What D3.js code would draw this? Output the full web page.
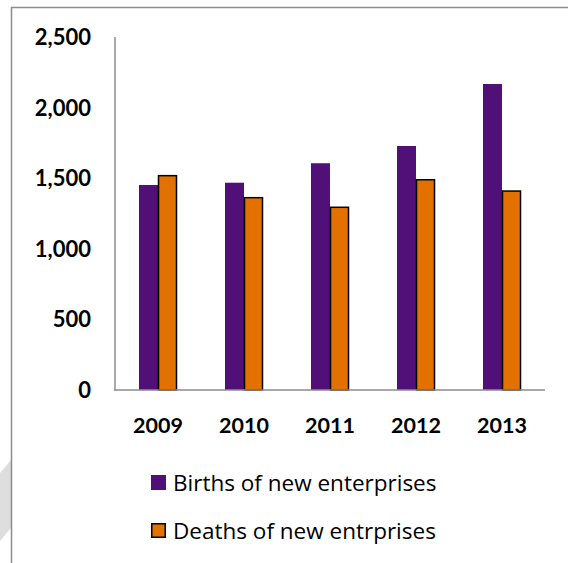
<!DOCTYPE html>
<html>
<head>
<meta charset="utf-8">
<script src="https://cdn.jsdelivr.net/npm/d3@7"></script>
<style>
  html, body { margin: 0; padding: 0; background: #fff; }
  svg { display: block; }
</style>
</head>
<body>
<svg id="chart" width="568" height="563"></svg>
<script>
const years = ["2009", "2010", "2011", "2012", "2013"];
const births = [1452, 1468, 1606, 1728, 2167];
const deaths = [1518, 1362, 1294, 1489, 1409];
const yTicks = [0, 500, 1000, 1500, 2000, 2500];
const seriesNames = ["Births of new enterprises", "Deaths of new entrprises"];
const seriesColors = ["#501077", "#E37100"];

const svg = d3.select("#chart");
const boldFont = "Lato, 'Open Sans', sans-serif";
const legFont = "'Open Sans', Lato, sans-serif";

// watermark shape
svg.append("path")
  .attr("d", "M0,473 L11,460 L11,528 L0,541 Z")
  .attr("fill", "#dedede");

// outer frame (left and top)
svg.append("path")
  .attr("d", "M11.5,563 L11.5,7.5 L568,7.5")
  .attr("fill", "none").attr("stroke", "#8c8c8c").attr("stroke-width", 1.5);

const x0 = d3.scaleBand().domain(years).range([115, 545]).paddingInner(0).paddingOuter(0);
const groupW = 38;
const x1 = d3.scaleBand().domain([0, 1]).range([0, groupW]);
const y = d3.scaleLinear().domain([0, 2500]).range([390, 37]);

// bars
const data = years.map((yr, i) => ({ yr, vals: [births[i], deaths[i]] }));
const g = svg.append("g");
const groups = g.selectAll("g.grp").data(data).enter().append("g")
  .attr("transform", d => `translate(${x0(d.yr) + x0.bandwidth() / 2 - groupW / 2},0)`);

groups.selectAll("rect").data(d => d.vals.map((v, k) => ({ v, k }))).enter().append("rect")
  .attr("x", d => x1(d.k) + (d.k === 1 ? 0.5 : 0))
  .attr("width", d => x1.bandwidth() - (d.k === 1 ? 1 : 0))
  .attr("y", d => y(d.v))
  .attr("height", d => y(0) - y(d.v))
  .attr("fill", d => seriesColors[d.k])
  .attr("stroke", d => d.k === 1 ? "#000" : "none")
  .attr("stroke-width", 1.5);

// axes lines
svg.append("line").attr("x1", 115).attr("x2", 115).attr("y1", y(2500)).attr("y2", y(0) + 0.5)
  .attr("stroke", "#8c8c8c").attr("stroke-width", 1.5);
svg.append("line").attr("x1", 114).attr("x2", 545).attr("y1", y(0)).attr("y2", y(0))
  .attr("stroke", "#8c8c8c").attr("stroke-width", 1.5);

// y tick labels
const fmt = d3.format(",");
svg.selectAll("text.ytick").data(yTicks).enter().append("text")
  .attr("class", "ytick")
  .attr("x", 91).attr("y", d => y(d) + 8)
  .attr("text-anchor", "end")
  .attr("font-family", boldFont).attr("font-weight", "bold").attr("font-size", 22)
  .attr("fill", "#000")
  .text(d => fmt(d));

// x labels
svg.selectAll("text.xtick").data(years).enter().append("text")
  .attr("class", "xtick")
  .attr("x", d => x0(d) + x0.bandwidth() / 2)
  .attr("y", 433)
  .attr("text-anchor", "middle")
  .attr("font-family", boldFont).attr("font-weight", "bold").attr("font-size", 21.5)
  .attr("fill", "#000")
  .text(d => d);

// legend
const legY = [475, 523];
seriesNames.forEach((name, k) => {
  svg.append("rect")
    .attr("x", k === 1 ? 151.75 : 151).attr("y", legY[k] + (k === 1 ? 0.75 : 0))
    .attr("width", k === 1 ? 13.5 : 15).attr("height", k === 1 ? 13.5 : 15)
    .attr("fill", seriesColors[k])
    .attr("stroke", k === 1 ? "#000" : "none").attr("stroke-width", 1.5);
  svg.append("text")
    .attr("x", 173).attr("y", legY[k] + 16)
    .attr("font-family", legFont).attr("font-size", 22.5)
    .attr("fill", "#000")
    .text(name);
});
</script>
</body>
</html>
